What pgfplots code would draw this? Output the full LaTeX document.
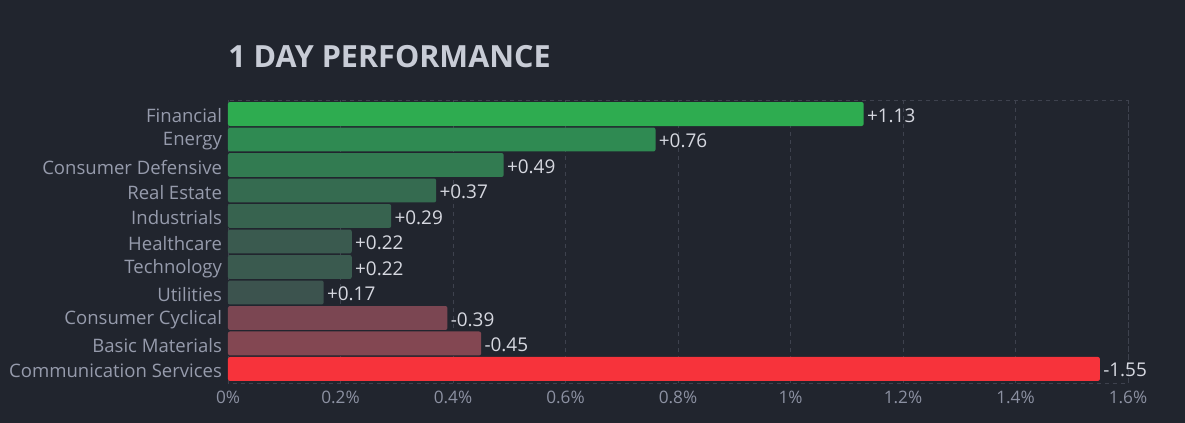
\documentclass[border=0pt]{standalone}
\usepackage{pgfplots}
\pgfplotsset{compat=1.18}
\usepackage{fontspec}
\setmainfont{Open Sans}
\definecolor{bg}{RGB}{33,37,46}
\definecolor{gridc}{RGB}{62,66,78}
\definecolor{titlec}{RGB}{200,204,214}
\definecolor{tickc}{RGB}{140,145,162}
\definecolor{ylabc}{RGB}{150,155,172}
\definecolor{valc}{RGB}{214,216,224}
\definecolor{c1}{RGB}{46,172,80}
\definecolor{c2}{RGB}{47,138,82}
\definecolor{c3}{RGB}{50,123,81}
\definecolor{c4}{RGB}{53,107,80}
\definecolor{c5}{RGB}{55,99,79}
\definecolor{c6}{RGB}{58,90,79}
\definecolor{c7}{RGB}{58,90,79}
\definecolor{c8}{RGB}{60,83,78}
\definecolor{c9}{RGB}{123,70,82}
\definecolor{c10}{RGB}{131,71,82}
\definecolor{c11}{RGB}{247,51,59}
\begin{document}
\begin{tikzpicture}
\fill[bg] (0,0) rectangle (888.75pt,317.25pt);
\useasboundingbox (0,0) rectangle (888.75pt,317.25pt);
\node[anchor=base west, font=\fontsize{22.9}{26}\selectfont\bfseries, text=titlec, inner sep=0pt] at (171pt,266.25pt) {1 DAY PERFORMANCE};
\begin{axis}[
  at={(171pt,30pt)}, anchor=south west,
  scale only axis, width=675pt, height=212.25pt,
  xbar, bar shift=0pt, bar width=0.94,
  y dir=reverse,
  xmin=0, xmax=1.6, ymin=-0.55, ymax=10.55,
  xtick={0,0.2,0.4,0.6,0.8,1,1.2,1.4,1.6},
  xticklabels={0\%,0.2\%,0.4\%,0.6\%,0.8\%,1\%,1.2\%,1.4\%,1.6\%},
  ytick={0,1,2,3,4,5,6,7,8,9,10},
  yticklabels={Financial,Energy,Consumer Defensive,Real Estate,Industrials,Healthcare,Technology,Utilities,Consumer Cyclical,Basic Materials,Communication Services},
  major tick length=0pt,
  xticklabel style={font=\fontsize{12.9}{14}\selectfont, text=tickc, yshift=-2.5pt},
  yticklabel style={font=\fontsize{13.9}{15}\selectfont, text=ylabc, xshift=-1pt, yshift=-1.5pt},
  xmajorgrids, grid style={gridc, dashed, line width=0.6pt},
  axis line style={gridc, dashed, line width=0.6pt},
  nodes near coords, point meta=explicit symbolic,
  every node near coord/.append style={font=\fontsize{14.2}{15}\selectfont, text=valc, anchor=west, xshift=-1pt, yshift=-1pt},
  every axis plot/.append style={draw=none, rounded corners=1.5pt},
  clip=false,
]
\addplot[fill=c1] coordinates {(1.13,0) [+1.13]};
\addplot[fill=c2] coordinates {(0.76,1) [+0.76]};
\addplot[fill=c3] coordinates {(0.49,2) [+0.49]};
\addplot[fill=c4] coordinates {(0.37,3) [+0.37]};
\addplot[fill=c5] coordinates {(0.29,4) [+0.29]};
\addplot[fill=c6] coordinates {(0.22,5) [+0.22]};
\addplot[fill=c7] coordinates {(0.22,6) [+0.22]};
\addplot[fill=c8] coordinates {(0.17,7) [+0.17]};
\addplot[fill=c9] coordinates {(0.39,8) [-0.39]};
\addplot[fill=c10] coordinates {(0.45,9) [-0.45]};
\addplot[fill=c11] coordinates {(1.55,10) [-1.55]};
\end{axis}
\end{tikzpicture}
\end{document}
